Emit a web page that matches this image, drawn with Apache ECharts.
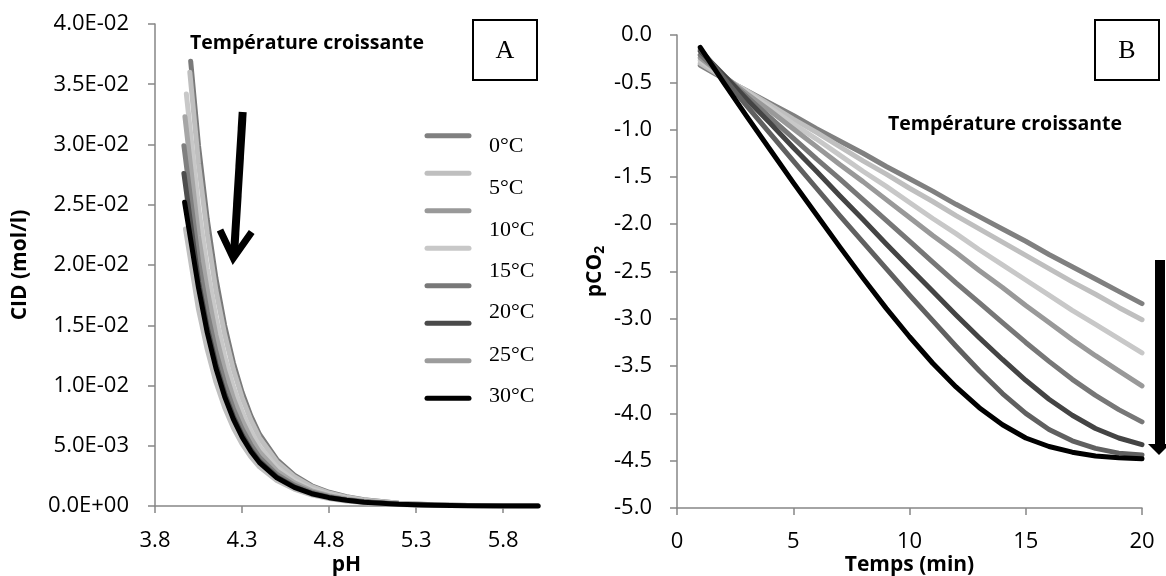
<!DOCTYPE html>
<html><head><meta charset="utf-8">
<script src="https://cdn.jsdelivr.net/npm/echarts@6/dist/echarts.min.js"></script>
<style>html,body{margin:0;padding:0;background:#fff}#c{width:1166px;height:576px}</style>
</head><body><div id="c"></div>
<script>
// ---------- Panel A : CID vs pH ----------
const tempLabels = ['0°C','5°C','10°C','15°C','20°C','25°C','30°C'];
const legendColors = ['#808080','#bfbfbf','#999999','#c8c8c8','#787878','#4a4a4a','#9c9c9c','#000000'];
const colorsA = ['#7a7a7a','#bfbfbf','#c8c8c8','#a6a6a6','#808080','#4d4d4d','#c0c0c0','#000000'];
const colorsB = ['#808080','#bfbfbf','#c8c8c8','#999999','#777777','#444444','#606060','#000000'];
const xTicksA = [3.8, 4.3, 4.8, 5.3, 5.8];
const startPH  = [4.005, 4.0, 3.98, 3.972, 3.966, 3.966, 3.975, 3.97];
const startCID = [0.0369, 0.0360, 0.0342, 0.0323, 0.0299, 0.0276, 0.0230, 0.0252];
const phGrid = [4.05,4.1,4.15,4.2,4.25,4.3,4.35,4.4,4.5,4.6,4.7,4.8,4.9,5.0,5.2,5.4,5.6,5.8,6.0];
const cidA1 = [0.0299,0.0238,0.0189,0.0150,0.0119,0.00945,0.00751,0.00596,0.00386,0.00256,0.00168,0.00114,0.00078,0.00053,0.00023,0.0001,0.00005,0.00002,0.00001];
const cidA2 = [0.0284,0.0226,0.0179,0.01426,0.01132,0.0090,0.00714,0.00567,0.00367,0.00243,0.0016,0.00108,0.00074,0.0005,0.00022,0.00009,0.00005,0.00002,0.00001];
const cidA3 = [0.0248,0.0197,0.01566,0.01244,0.00988,0.00785,0.00623,0.00495,0.00321,0.00212,0.0014,0.00095,0.00064,0.00044,0.00019,0.00008,0.00004,0.00002,0.00001];
const cidA4 = [0.0224,0.0179,0.01417,0.01126,0.00894,0.0071,0.00564,0.00448,0.0029,0.00192,0.00126,0.00086,0.00058,0.0004,0.00017,0.00007,0.00004,0.00001,0.00001];
const cidA5 = [0.0203,0.0161,0.0128,0.01017,0.00808,0.00642,0.0051,0.00404,0.00262,0.00174,0.00114,0.00077,0.00053,0.00036,0.00016,0.00007,0.00003,0.00001,0.00001];
const cidA6 = [0.0186,0.0148,0.01177,0.00935,0.00743,0.0059,0.00469,0.00372,0.00241,0.0016,0.00105,0.00071,0.00048,0.00033,0.00014,0.00006,0.00003,0.00001,0.00001];
const cidA7 = [0.0163,0.013,0.01029,0.00817,0.00649,0.00516,0.0041,0.00325,0.00211,0.0014,0.00092,0.00062,0.00042,0.00029,0.00013,0.00005,0.00003,0.00001,0.00001];
const cidA8 = [0.0181,0.0144,0.01143,0.00908,0.00721,0.00573,0.00455,0.00361,0.00234,0.00155,0.00102,0.00069,0.00047,0.00032,0.00014,0.00006,0.00003,0.00001,0.00001];
const cidLists = [cidA1,cidA2,cidA3,cidA4,cidA5,cidA6,cidA7,cidA8];

// ---------- Panel B : pCO2 vs time ----------
const timesB = [1,2,3,4,5,6,7,8,9,10,11,12,13,14,15,16,17,18,19,20];
const pB1 = [-0.32,-0.46,-0.59,-0.72,-0.85,-0.99,-1.12,-1.25,-1.39,-1.52,-1.65,-1.79,-1.92,-2.05,-2.18,-2.32,-2.45,-2.58,-2.71,-2.84];
const pB2 = [-0.30,-0.45,-0.59,-0.74,-0.89,-1.03,-1.18,-1.33,-1.47,-1.62,-1.76,-1.91,-2.05,-2.19,-2.33,-2.47,-2.61,-2.74,-2.88,-3.01];
const pB3 = [-0.27,-0.44,-0.60,-0.77,-0.94,-1.10,-1.27,-1.44,-1.60,-1.77,-1.94,-2.10,-2.27,-2.43,-2.59,-2.75,-2.91,-3.06,-3.21,-3.36];
const pB4 = [-0.24,-0.43,-0.62,-0.80,-0.99,-1.18,-1.37,-1.55,-1.74,-1.93,-2.12,-2.30,-2.49,-2.67,-2.86,-3.04,-3.22,-3.39,-3.55,-3.71];
const pB5 = [-0.21,-0.43,-0.65,-0.87,-1.09,-1.31,-1.52,-1.74,-1.96,-2.18,-2.40,-2.62,-2.83,-3.04,-3.25,-3.45,-3.64,-3.81,-3.96,-4.09];
const pB6 = [-0.17,-0.42,-0.68,-0.93,-1.19,-1.44,-1.70,-1.95,-2.21,-2.46,-2.71,-2.96,-3.20,-3.43,-3.65,-3.85,-4.02,-4.16,-4.26,-4.33];
const pB7 = [-0.15,-0.45,-0.75,-1.04,-1.33,-1.62,-1.91,-2.19,-2.47,-2.75,-3.02,-3.29,-3.55,-3.79,-4.00,-4.17,-4.29,-4.37,-4.42,-4.44];
const pB8 = [-0.13,-0.50,-0.86,-1.21,-1.56,-1.90,-2.24,-2.57,-2.89,-3.19,-3.47,-3.72,-3.94,-4.12,-4.26,-4.35,-4.41,-4.45,-4.47,-4.48];
const pLists = [pB1,pB2,pB3,pB4,pB5,pB6,pB7,pB8];

const FONT = 'Open Sans';
const axisColor = '#868686';

function sci(v){
  const s = Number(v).toExponential(1).toUpperCase();
  const m = s.split('E');
  const e = parseInt(m[1],10);
  const sign = e < 0 ? '-' : '+';
  const a = Math.abs(e);
  return m[0] + 'E' + sign + (a < 10 ? '0' + a : '' + a);
}

const baseAxis = {
  axisLine:{show:true, onZero:false, lineStyle:{color:axisColor, width:1.5}},
  axisTick:{show:true, inside:false, length:7, lineStyle:{color:axisColor, width:1.5}},
  splitLine:{show:false},
};

const seriesA = cidLists.map((lst,i)=>({
  type:'line', xAxisIndex:0, yAxisIndex:0, name:'A'+i,
  showSymbol:false, smooth:false,
  lineStyle:{color:colorsA[i], width:5, cap:'round', join:'round'},
  itemStyle:{color:colorsA[i]},
  data:[[startPH[i], startCID[i]]].concat(phGrid.map((p,j)=>[p, lst[j]]))
}));
const seriesB = pLists.map((lst,i)=>({
  type:'line', xAxisIndex:1, yAxisIndex:1, name:'B'+i,
  showSymbol:false, smooth:false,
  lineStyle:{color:colorsB[i], width:5, cap:'round', join:'round'},
  itemStyle:{color:colorsB[i]},
  data:timesB.map((t,j)=>[t, lst[j]])
}));

const legendY = [135.7,173.3,210.7,248.3,285.7,323.3,360.7,398.3];
const labelY = [146.7,188,230,271.7,312.7,355,396];
const graphics = [];
legendColors.forEach((c,i)=>{
  graphics.push({type:'line', shape:{x1:427,y1:legendY[i],x2:469,y2:legendY[i]},
    style:{stroke:c, lineWidth:5, lineCap:'round'}});
});
tempLabels.forEach((t,i)=>{
  graphics.push({type:'text', x:489, y:labelY[i],
    style:{text:t, font:'22px "Liberation Serif"', fill:'#000', verticalAlign:'middle'}});
});
graphics.push({type:'rect', shape:{x:473,y:20,width:64,height:60}, style:{fill:'#fff', stroke:'#000', lineWidth:2}});
graphics.push({type:'text', x:505, y:51, style:{text:'A', font:'26px "Liberation Serif"', fill:'#000', align:'center', verticalAlign:'middle'}});
graphics.push({type:'rect', shape:{x:1095,y:20,width:64,height:60}, style:{fill:'#fff', stroke:'#000', lineWidth:2}});
graphics.push({type:'text', x:1127, y:51, style:{text:'B', font:'26px "Liberation Serif"', fill:'#000', align:'center', verticalAlign:'middle'}});
graphics.push({type:'text', x:190, y:43, style:{text:'Température croissante', font:'bold 19.5px "Open Sans"', fill:'#000', verticalAlign:'middle'}});
graphics.push({type:'text', x:888, y:124, style:{text:'Température croissante', font:'bold 19.5px "Open Sans"', fill:'#000', verticalAlign:'middle'}});
graphics.push({type:'polyline', shape:{points:[[242.7,112],[234,255]]}, style:{stroke:'#000', lineWidth:8, fill:null}});
graphics.push({type:'polyline', shape:{points:[[220,230],[233.3,258],[251.7,232]]}, style:{stroke:'#000', lineWidth:7, fill:null, lineJoin:'miter'}});
graphics.push({type:'rect', shape:{x:1155,y:260,width:10,height:185}, style:{fill:'#000'}});
graphics.push({type:'polygon', shape:{points:[[1148,444],[1170,444],[1159,455]]}, style:{fill:'#000'}});

const option = {
  animation:false,
  backgroundColor:'#fff',
  textStyle:{fontFamily:FONT},
  grid:[
    {left:155, top:24, width:383, height:482, containLabel:false, outerBoundsMode:'none'},
    {left:677, top:35, width:465, height:473, containLabel:false, outerBoundsMode:'none'}
  ],
  xAxis:[
    Object.assign({}, baseAxis, {
      type:'value', gridIndex:0, min:3.8, max:6.0, interval:0.5,
      axisTick:Object.assign({}, baseAxis.axisTick, {customValues:xTicksA}),
      axisLabel:{customValues:xTicksA, formatter:v=>Number(v).toFixed(1), color:'#000', fontFamily:FONT, fontSize:22, margin:24},
      name:'pH', nameLocation:'middle', nameGap:49, nameMoveOverlap:false,
      nameTextStyle:{fontFamily:FONT, fontWeight:'bold', fontSize:21, color:'#000'}
    }),
    Object.assign({}, baseAxis, {
      type:'value', gridIndex:1, min:0, max:20, interval:5,
      axisLabel:{formatter:v=>String(v), color:'#000', fontFamily:FONT, fontSize:22, margin:23},
      name:'Temps (min)', nameLocation:'middle', nameGap:47, nameMoveOverlap:false,
      nameTextStyle:{fontFamily:FONT, fontWeight:'bold', fontSize:21, color:'#000'}
    })
  ],
  yAxis:[
    Object.assign({}, baseAxis, {
      type:'value', gridIndex:0, min:0, max:0.04, interval:0.005,
      axisLabel:{formatter:sci, color:'#000', fontFamily:FONT, fontSize:22, margin:26},
      name:'CID (mol/l)', nameLocation:'middle', nameGap:124, nameRotate:90, nameMoveOverlap:false,
      nameTextStyle:{fontFamily:FONT, fontWeight:'bold', fontSize:21, color:'#000'}
    }),
    Object.assign({}, baseAxis, {
      type:'value', gridIndex:1, min:-5, max:0, interval:0.5,
      axisLabel:{formatter:v=>Number(v).toFixed(1), color:'#000', fontFamily:FONT, fontSize:22, margin:25},
      name:'pCO{s|2}', nameLocation:'middle', nameGap:70, nameRotate:90, nameMoveOverlap:false,
      nameTextStyle:{fontFamily:FONT, fontWeight:'bold', fontSize:21, color:'#000',
        rich:{s:{fontFamily:FONT, fontWeight:'bold', fontSize:14, color:'#000', padding:[10,0,0,0]}}}
    })
  ],
  series: seriesA.concat(seriesB),
  graphic: graphics
};
const chart = echarts.init(document.getElementById('c'), null, {renderer:'canvas'});
chart.setOption(option);
</script>
</body></html>
